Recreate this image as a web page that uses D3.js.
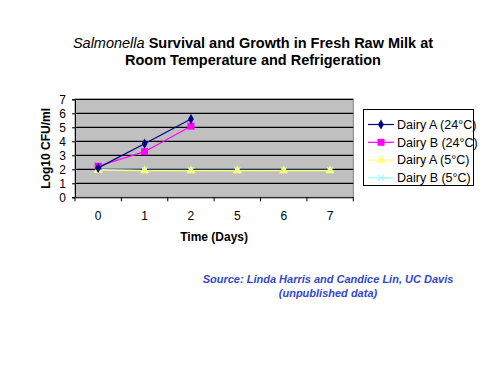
<!DOCTYPE html>
<html><head><meta charset="utf-8">
<script src="https://cdn.jsdelivr.net/npm/d3@7"></script>
<style>body{margin:0;background:#fff}svg{display:block;font-family:"Liberation Sans",Arial,sans-serif}</style>
</head><body><svg id="c" width="500" height="375"></svg>
<script>
const categories = ["0","1","2","5","6","7"];
const seriesNames = ["Dairy A (24°C)","Dairy B (24°C)","Dairy A (5°C)","Dairy B (5°C)"];
const dairyA24 = [2.1, 3.83, 5.59, null, null, null];
const dairyB24 = [2.22, 3.26, 5.08, null, null, null];
const dairyA5 = [1.95, 1.9, 1.9, 1.9, 1.9, 1.9];
const dairyB5 = [1.97, 1.93, 1.93, 1.93, 1.93, 1.93];
const yTicks = [0,1,2,3,4,5,6,7];
const colors = ["#000080","#ff00ff","#ffff80","#99ffff"];
const markers = ["diamond","square","triangle","cross"];

const svg = d3.select("#c");
const L=75, R=353.3, T=99.3, B=197.3;
const x = d3.scaleBand().domain(categories).range([L,R]);
const y = d3.scaleLinear().domain([0,7]).range([B,T]);

svg.append("rect").attr("x",L).attr("y",T).attr("width",R-L).attr("height",B-T)
  .attr("fill","#c0c0c0").attr("stroke","#808080").attr("stroke-width",1);
svg.append("g").selectAll("line").data(yTicks.filter(d=>d>0)).join("line")
  .attr("x1",L).attr("x2",R).attr("y1",d=>y(d)).attr("y2",d=>y(d))
  .attr("stroke","#000").attr("stroke-width",1.3);

const ya = svg.append("g").attr("transform",`translate(${L},0)`)
  .call(d3.axisLeft(y).tickValues(yTicks).tickSize(3).tickPadding(6).tickFormat(d3.format("d")));
ya.select(".domain").attr("stroke","#000");
ya.selectAll("text").attr("font-size",12).attr("fill","#000").attr("font-family","Liberation Sans, Arial");

const xa = svg.append("g").attr("transform",`translate(0,${B})`)
  .call(d3.axisBottom(x).tickSize(0).tickPadding(14));
xa.select(".domain").attr("stroke","#000");
xa.selectAll("text").attr("font-size",12).attr("fill","#000").attr("font-family","Liberation Sans, Arial");
svg.append("g").selectAll("line").data(d3.range(categories.length+1)).join("line")
  .attr("x1",i=>L+i*x.step()).attr("x2",i=>L+i*x.step()).attr("y1",B).attr("y2",B+4)
  .attr("stroke","#000");

function marker(g, type, color){
  if(type==="diamond") g.append("path").attr("d",d3.symbol(d3.symbolDiamond,30)()).attr("fill",color);
  else if(type==="square") g.append("rect").attr("x",-3.5).attr("y",-3.5).attr("width",7).attr("height",7).attr("fill",color);
  else if(type==="triangle") g.append("path").attr("d",d3.symbol(d3.symbolTriangle,36)()).attr("fill",color);
  else g.append("path").attr("d","M-3,-3L3,3M-3,3L3,-3").attr("stroke",color).attr("stroke-width",1.2);
}

const allSeries = [dairyA24, dairyB24, dairyA5, dairyB5];
const line = d3.line().defined(d=>d.v!=null).x(d=>x(d.c)+x.bandwidth()/2).y(d=>y(d.v));
[3,2,1,0].forEach(si=>{
  const pts = categories.map((c,i)=>({c, v: allSeries[si][i]}));
  svg.append("path").datum(pts).attr("d",line).attr("fill","none").attr("stroke",colors[si]).attr("stroke-width",1.2);
  pts.filter(p=>p.v!=null).forEach(p=>{
    const g = svg.append("g").attr("transform",`translate(${x(p.c)+x.bandwidth()/2},${y(p.v)})`);
    marker(g, markers[si], colors[si]);
  });
});

// legend
const lg = svg.append("g");
lg.append("rect").attr("x",363.5).attr("y",109.5).attr("width",110).attr("height",76)
  .attr("fill","#fff").attr("stroke","#000").attr("stroke-width",1);
seriesNames.forEach((n,i)=>{
  const yy = 124.5 + i*17.8;
  lg.append("line").attr("x1",368).attr("x2",394).attr("y1",yy).attr("y2",yy).attr("stroke",colors[i]).attr("stroke-width",1.2);
  const g = lg.append("g").attr("transform",`translate(381,${yy})`);
  marker(g, markers[i], colors[i]);
  lg.append("text").attr("x",397).attr("y",yy).attr("dy","0.35em").attr("font-size",12.5).text(n);
});

// titles
const t = svg.append("text").attr("x",253).attr("y",48).attr("text-anchor","middle")
  .attr("font-size",14.5).attr("font-weight","bold");
t.append("tspan").attr("font-style","italic").attr("font-weight","normal").text("Salmonella");
t.append("tspan").text(" Survival and Growth in Fresh Raw Milk at");
svg.append("text").attr("x",253).attr("y",65).attr("text-anchor","middle")
  .attr("font-size",14.5).attr("font-weight","bold").text("Room Temperature and Refrigeration");

svg.append("text").attr("transform",`translate(50,${(T+B)/2}) rotate(-90)`).attr("text-anchor","middle")
  .attr("font-size",12).attr("font-weight","bold").text("Log10 CFU/ml");
svg.append("text").attr("x",(L+R)/2).attr("y",241).attr("text-anchor","middle")
  .attr("font-size",12).attr("font-weight","bold").text("Time (Days)");

svg.append("text").attr("x",328).attr("y",283).attr("text-anchor","middle").attr("fill","#3347c8")
  .attr("font-size",11).attr("font-weight","bold").attr("font-style","italic")
  .text("Source:  Linda Harris and Candice Lin, UC Davis");
svg.append("text").attr("x",328).attr("y",297).attr("text-anchor","middle").attr("fill","#3347c8")
  .attr("font-size",11).attr("font-weight","bold").attr("font-style","italic")
  .text("(unpublished data)");
</script></body></html>
